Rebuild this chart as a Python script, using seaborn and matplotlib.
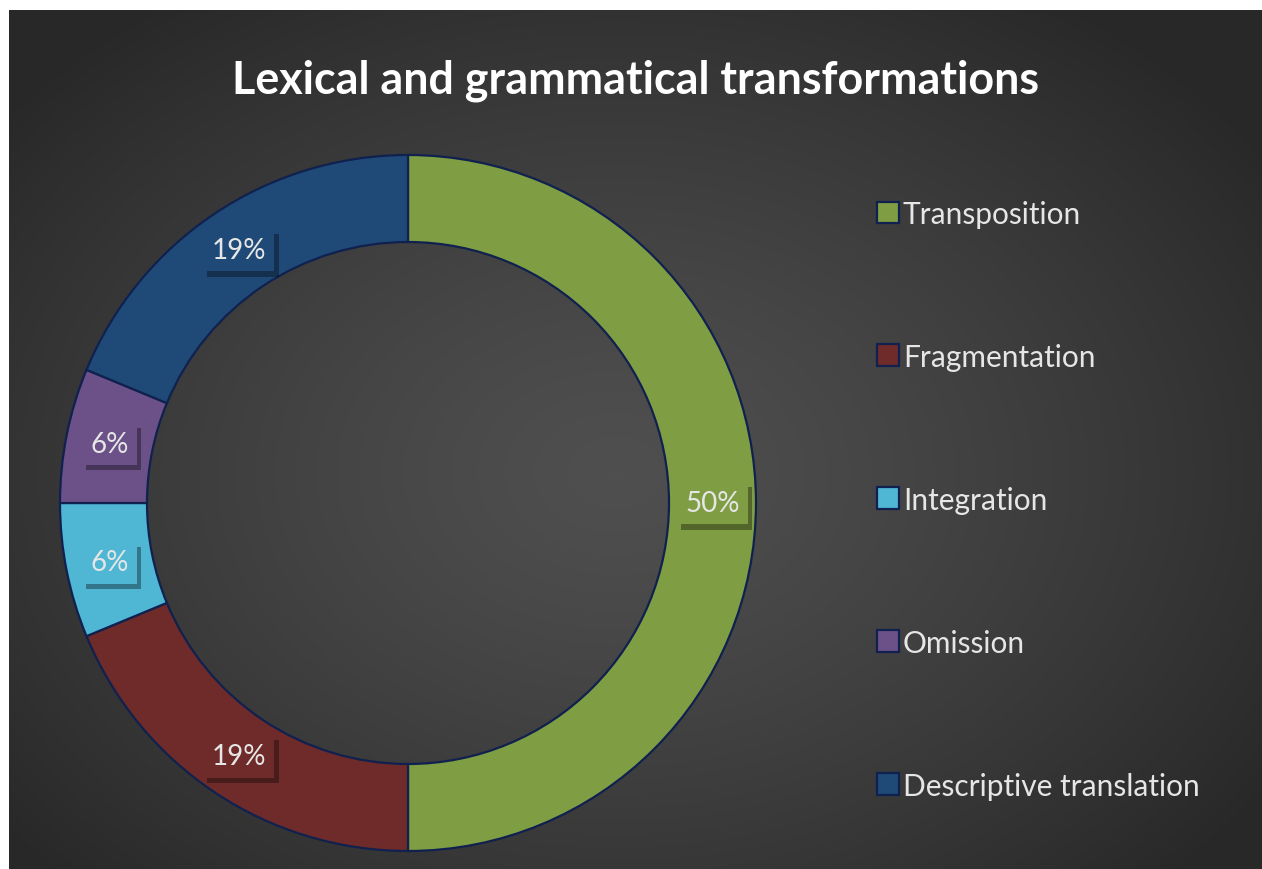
import numpy as np
import matplotlib
matplotlib.use("Agg")
import matplotlib.pyplot as plt
import matplotlib.patheffects as pe
from matplotlib.patches import Rectangle
import seaborn as sns

sns.set_style("dark")
plt.rcParams['font.family'] = ['Lato', 'DejaVu Sans']

# ---- data ----
categories = ["Transposition", "Fragmentation", "Integration", "Omission", "Descriptive translation"]
values = [8, 3, 1, 1, 3]
pct_labels = ["50%", "19%", "6%", "6%", "19%"]
colors = sns.color_palette(["#7F9E44", "#6E2B29", "#4FB6D3", "#6C5189", "#1F4A78"])
title = "Lexical and grammatical transformations"

W, H = 1262, 870
fig = plt.figure(figsize=(W / 100, H / 100), dpi=100, facecolor="#2a2a2a")

# background with radial gradient
bg = fig.add_axes([9 / W, 0, 1 - 9 / W, 1 - 11 / H])
bg.set_axis_off()
yy, xx = np.mgrid[0:400, 0:600]
cx, cy = 290, 215
d = np.sqrt(((xx - cx) / 600) ** 2 + ((yy - cy) / 430) ** 2)
v = 0.31 - 0.15 * np.clip(d / 0.62, 0, 1) ** 1.3
img = np.dstack([v, v, v])
bg.imshow(img, extent=[0, 1, 0, 1], aspect="auto", origin="upper", zorder=0)
bg.set_xlim(0, 1)
bg.set_ylim(0, 1)

# white margins (top and left)
fig.patches.append(Rectangle((0, 1 - 11 / H), 1, 11 / H, transform=fig.transFigure,
                             facecolor="white", edgecolor="none", zorder=-1))
fig.patches.append(Rectangle((0, 0), 9 / W, 1, transform=fig.transFigure,
                             facecolor="white", edgecolor="none", zorder=-1))

# donut
R = 348
cxp, cyp = 408, H - 504
ax = fig.add_axes([(cxp - R) / W, (cyp - R) / H, 2 * R / W, 2 * R / H])
ax.set_axis_off()
ax.patch.set_alpha(0)
wedges, _ = ax.pie(values, colors=colors, startangle=90, counterclock=False,
                   radius=1.0, wedgeprops=dict(width=0.25, edgecolor="#10214F", linewidth=1.6))
ax.set_xlim(-1, 1)
ax.set_ylim(-1, 1)

for w, lab, c in zip(wedges, pct_labels, colors):
    mid = np.deg2rad((w.theta1 + w.theta2) / 2)
    r = 0.875
    x, y = r * np.cos(mid), r * np.sin(mid)
    t = ax.text(x, y, lab, ha="center", va="center", fontsize=20, color="#E6E6E6",
                bbox=dict(boxstyle="square,pad=0.3", facecolor=c, edgecolor="none"))
    t.get_bbox_patch().set_path_effects([
        pe.SimplePatchShadow(offset=(3, -4), shadow_rgbFace="black", alpha=0.35),
        pe.Normal()])

# title
fig.text(636 / W, 1 - 81 / H, title, ha="center", va="center", fontsize=32.3,
         fontweight="bold", color="white")

# legend
leg = fig.legend(wedges, categories, loc="upper left", bbox_to_anchor=(850 / W, 1 - 174 / H),
                 frameon=False, fontsize=21.5, labelcolor="#E6E6E6",
                 handlelength=0.75, handleheight=0.75, handletextpad=0.12, labelspacing=3.85)

fig.savefig("out.png", dpi=100, facecolor=fig.get_facecolor())
